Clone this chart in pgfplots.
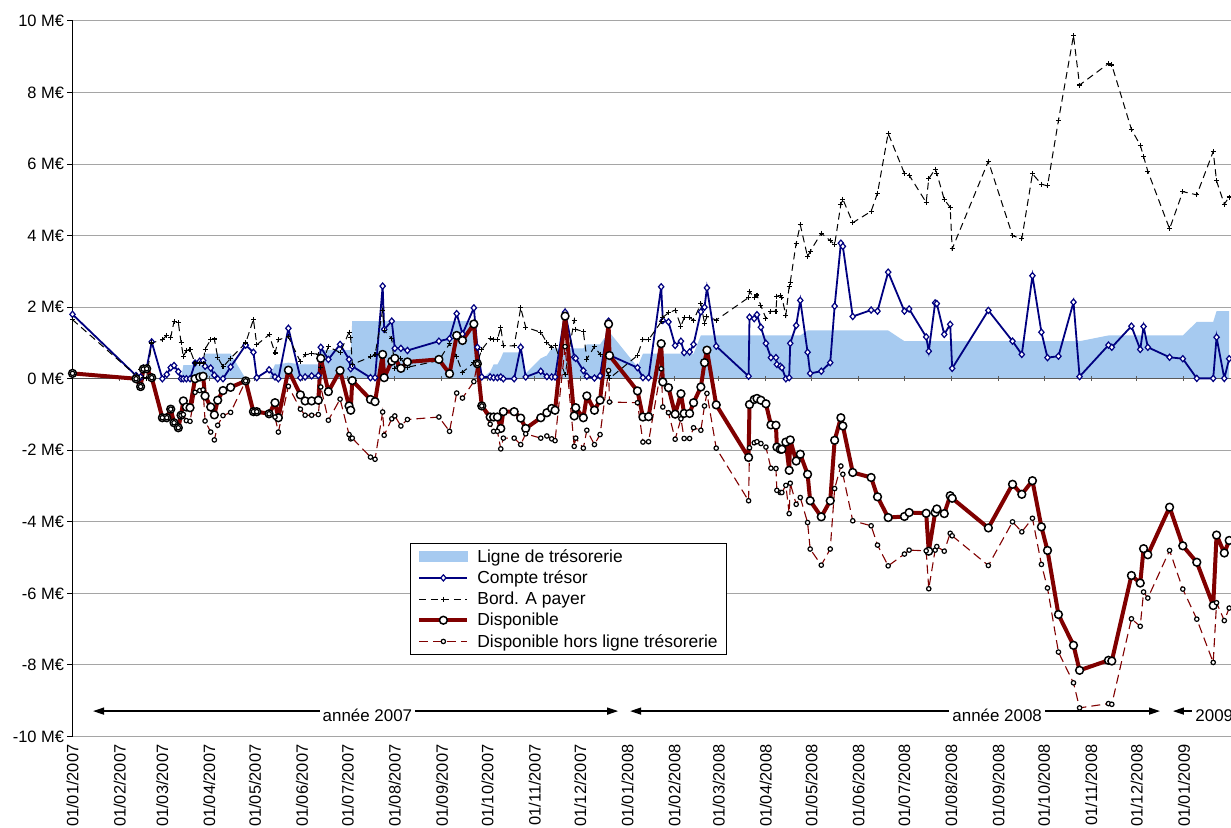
\documentclass[border=0pt]{standalone}
\usepackage{fontspec}
\setmainfont{Liberation Sans}
\usepackage{pgfplots}
\usepackage{pgfplotstable}
\pgfplotsset{compat=1.18}
\usetikzlibrary{arrows.meta}

\definecolor{lignebleu}{RGB}{166,202,240}
\definecolor{marine}{RGB}{0,0,128}
\definecolor{bordeaux}{RGB}{128,0,0}
\definecolor{grille}{RGB}{165,165,165}
\definecolor{axezero}{RGB}{90,90,90}

% d = jours depuis le 01/01/2007, L = ligne de trésorerie, C = compte trésor,
% B = bordereaux à payer, D = disponible, H = disponible hors ligne (M€)
\pgfplotstableread{
d L C B D H
0 0 1.80 1.65 0.15 0.15
41.8 0 0.09 0.09 0.00 0.00
44.8 0 0.05 0.27 -0.22 -0.22
46.6 0 0.30 0.03 0.27 0.27
48.8 0 0.30 0.02 0.28 0.28
52.1 0 1.03 1.00 0.03 0.03
59.1 0 0.00 1.09 -1.09 -1.09
62.0 0 0.12 1.21 -1.09 -1.09
64.6 0 0.31 1.16 -0.85 -0.85
66.8 0 0.37 1.60 -1.23 -1.23
69.6 0 0.20 1.57 -1.37 -1.37
71.4 0 0.00 1.02 -1.02 -1.02
72.9 0.38 0.00 0.62 -0.62 -1.00
74.9 0.38 0.00 0.79 -0.79 -1.17
77.3 0.38 0.00 0.81 -0.81 -1.19
80.6 0.38 0.44 0.44 0.00 -0.38
83.7 0.38 0.49 0.44 0.05 -0.33
85.9 0.38 0.51 0.44 0.07 -0.31
87.2 0.70 0.35 0.83 -0.48 -1.18
90.9 0.70 0.30 1.09 -0.79 -1.49
93.3 0.70 0.10 1.11 -1.01 -1.71
95.5 0.70 0.00 0.60 -0.60 -1.30
99.0 0.70 0.00 0.33 -0.33 -1.03
104.0 0.70 0.33 0.57 -0.24 -0.94
113.9 0 0.94 1.00 -0.06 -0.06
119.0 0 0.74 1.66 -0.92 -0.92
121.2 0 0.03 0.95 -0.92 -0.92
129.3 0 0.25 1.23 -0.98 -0.98
133.2 0.40 0.05 0.72 -0.67 -1.07
135.4 0.40 0.00 1.09 -1.09 -1.49
142.0 0.45 1.41 1.17 0.24 -0.21
149.9 0.40 0.03 0.48 -0.45 -0.85
153.0 0.40 0.05 0.67 -0.62 -1.02
157.3 0.40 0.08 0.70 -0.62 -1.02
161.7 0.40 0.09 0.69 -0.60 -1.00
163.3 0.80 0.88 0.31 0.57 -0.23
168.3 0.80 0.54 0.90 -0.36 -1.16
176.0 0.80 0.96 0.73 0.23 -0.57
181.9 0.80 0.54 1.30 -0.76 -1.56
183.0 0.80 0.28 1.16 -0.88 -1.68
184.0 1.61 0.35 0.40 -0.05 -1.66
196.0 1.61 0.03 0.61 -0.58 -2.19
199.0 1.61 0.03 0.67 -0.64 -2.25
204.0 1.61 2.59 1.91 0.68 -0.93
205.0 1.61 1.38 1.35 0.03 -1.58
210.0 1.61 1.61 1.12 0.49 -1.12
212.0 1.61 0.85 0.28 0.57 -1.04
216.0 1.61 0.85 0.56 0.29 -1.32
220.3 1.61 0.79 0.32 0.47 -1.14
241.0 1.61 1.05 0.51 0.54 -1.07
248.0 1.61 1.12 0.98 0.14 -1.47
252.7 1.61 1.82 0.61 1.21 -0.40
256.5 1.61 1.25 0.18 1.07 -0.54
264.0 1.61 1.98 0.45 1.53 -0.08
266.3 0 0.88 0.46 0.42 0.42
269.2 0 0.05 0.81 -0.76 -0.76
274.7 0.20 0.05 1.12 -1.07 -1.27
277.0 0.40 0.03 1.10 -1.07 -1.47
279.5 0.40 0.03 1.10 -1.07 -1.47
281.7 0.57 0.05 1.44 -1.39 -1.96
283.4 0.74 0.00 0.92 -0.92 -1.66
290.5 0.74 0.00 0.92 -0.92 -1.66
294.8 0.74 0.88 1.98 -1.10 -1.84
298.1 0.15 0.05 1.44 -1.39 -1.54
308.0 0.57 0.21 1.30 -1.09 -1.66
312.0 0.65 0.06 1.01 -0.95 -1.60
315.2 0.85 0.05 0.88 -0.83 -1.68
317.4 0.85 0.05 0.93 -0.88 -1.73
324.0 0.85 1.86 0.11 1.75 0.90
330.0 0.85 0.60 1.64 -1.04 -1.89
331.0 0.85 0.57 1.38 -0.81 -1.66
336.0 0.85 0.23 1.32 -1.09 -1.94
338.3 0.96 0.07 0.55 -0.48 -1.44
343.3 0.96 0.02 0.90 -0.88 -1.84
347.0 0.96 0.08 0.68 -0.60 -1.56
352.6 1.30 1.61 0.08 1.53 0.23
353.2 1.30 0.66 0.01 0.65 -0.65
371.6 0.33 0.31 0.65 -0.34 -0.67
375.2 0.70 0.03 1.10 -1.07 -1.77
378.9 0.70 0.03 1.09 -1.06 -1.76
387.2 0.70 2.57 1.59 0.98 0.28
388.3 0.70 1.63 1.72 -0.09 -0.79
392.0 0.70 1.59 1.84 -0.25 -0.95
396.4 0.70 0.93 1.92 -0.99 -1.69
400.2 0.70 1.05 1.47 -0.42 -1.12
402.3 0.70 0.73 1.70 -0.97 -1.67
405.9 0.70 0.75 1.72 -0.97 -1.67
408.5 0.70 0.96 1.63 -0.67 -1.37
413.3 1.21 1.87 2.10 -0.23 -1.44
415.7 1.21 2.00 1.55 0.45 -0.76
417.3 1.21 2.54 1.74 0.80 -0.41
423.4 1.21 0.91 1.64 -0.73 -1.94
444.7 1.21 0.07 2.27 -2.20 -3.41
445.3 1.21 1.72 2.44 -0.72 -1.93
448.4 1.21 1.68 2.26 -0.58 -1.79
450.2 1.21 1.79 2.34 -0.55 -1.76
452.8 1.21 1.44 2.04 -0.60 -1.81
456.1 1.21 0.99 1.69 -0.70 -1.91
459.4 1.21 0.59 1.88 -1.29 -2.50
462.7 1.21 0.59 1.89 -1.30 -2.51
463.3 1.21 0.40 2.31 -1.91 -3.12
465.5 1.21 0.35 2.32 -1.97 -3.18
466.6 1.21 0.31 2.28 -1.97 -3.18
469.2 1.21 0.00 1.77 -1.77 -2.98
471.4 1.21 0.03 2.59 -2.56 -3.77
472.1 1.21 0.99 2.70 -1.71 -2.92
476.0 1.21 1.49 3.79 -2.30 -3.51
478.7 1.21 2.19 4.30 -2.11 -3.32
483.5 1.35 0.74 3.41 -2.67 -4.02
485.2 1.35 0.15 3.56 -3.41 -4.76
492.5 1.35 0.21 4.07 -3.86 -5.21
498.4 1.35 0.45 3.86 -3.41 -4.76
501.3 1.35 2.03 3.75 -1.72 -3.07
505.4 1.35 3.79 4.88 -1.09 -2.44
506.7 1.35 3.70 5.02 -1.32 -2.67
513.2 1.35 1.74 4.36 -2.62 -3.97
525.3 1.35 1.92 4.68 -2.76 -4.11
529.5 1.35 1.89 5.19 -3.30 -4.65
536.5 1.35 2.98 6.86 -3.88 -5.23
547.2 1.05 1.89 5.74 -3.85 -4.90
550.3 1.05 1.95 5.69 -3.74 -4.79
561.5 1.05 1.17 4.93 -3.76 -4.81
563.2 1.05 0.77 5.59 -4.82 -5.87
567.4 1.05 2.12 5.86 -3.74 -4.79
568.5 1.05 2.10 5.74 -3.64 -4.69
573.4 1.05 1.24 5.01 -3.77 -4.82
577.3 1.05 1.52 4.79 -3.27 -4.32
578.6 1.05 0.29 3.63 -3.34 -4.39
602.4 1.05 1.91 6.08 -4.17 -5.22
618.3 1.05 1.05 4.00 -2.95 -4.00
624.4 1.05 0.68 3.91 -3.23 -4.28
631.4 1.05 2.88 5.73 -2.85 -3.90
637.3 1.05 1.30 5.44 -4.14 -5.19
641.3 1.05 0.59 5.39 -4.80 -5.85
648.5 1.05 0.63 7.22 -6.59 -7.64
658.4 1.05 2.14 9.59 -7.45 -8.50
662.4 1.05 0.06 8.21 -8.15 -9.20
681.4 1.21 0.94 8.81 -7.87 -9.08
683.6 1.21 0.88 8.77 -7.89 -9.10
696.5 1.21 1.47 6.97 -5.50 -6.71
702.3 1.21 0.82 6.53 -5.71 -6.92
704.5 1.21 1.46 6.21 -4.75 -5.96
707.3 1.21 0.88 5.80 -4.92 -6.13
721.6 1.21 0.60 4.19 -3.59 -4.80
730.3 1.21 0.56 5.23 -4.67 -5.88
739.5 1.59 0.01 5.14 -5.13 -6.72
750.3 1.59 0.01 6.35 -6.34 -7.93
752.5 1.89 1.16 5.53 -4.37 -6.26
757.6 1.89 0.01 4.88 -4.87 -6.76
760.8 1.89 0.56 5.08 -4.52 -6.41
}\tresorerie

\pgfplotsset{
  cadre/.style={
    scale only axis, width=1158.5bp, height=715.5bp,
    xmin=0, xmax=762, ymin=-10, ymax=10,
    xtick={0,31,59,90,120,151,181,212,243,273,304,334,365,396,425,456,486,517,547,578,609,639,670,700,731},
    tick align=outside, major tick length=5bp,
  },
}

\begin{document}
\begin{tikzpicture}
% fond : grille, ligne de trésorerie et axe du zéro
\begin{axis}[cadre,
  axis on top,
  axis x line=middle, axis y line=left,
  x axis line style={-, draw=axezero, line width=1.4bp},
  y axis line style={draw=none},
  xticklabels={},
  xtick style={draw=axezero, line width=1bp},
  ytick={-10,-8,-6,-4,-2,2,4,6,8,10}, yticklabels={},
  ytick style={draw=none},
  ymajorgrids, grid style={draw=grille, line width=1bp},
]
\addplot[fill=lignebleu, draw=none] table[x=d, y=L] {\tresorerie} \closedcycle;
\end{axis}

% premier plan : séries, axe vertical, légende
\begin{axis}[cadre,
  axis x line*=bottom, axis y line*=left,
  x axis line style={draw=none},
  xtick style={draw=none},
  xticklabels={01/01/2007,01/02/2007,01/03/2007,01/04/2007,01/05/2007,01/06/2007,01/07/2007,01/08/2007,01/09/2007,01/10/2007,01/11/2007,01/12/2007,01/01/2008,01/02/2008,01/03/2008,01/04/2008,01/05/2008,01/06/2008,01/07/2008,01/08/2008,01/09/2008,01/10/2008,01/11/2008,01/12/2008,01/01/2009},
  xticklabel style={rotate=90, anchor=east, inner sep=3bp},
  ytick={-10,-8,-6,-4,-2,0,2,4,6,8,10},
  yticklabels={-10 M€,-8 M€,-6 M€,-4 M€,-2 M€,0 M€,2 M€,4 M€,6 M€,8 M€,10 M€},
  y axis line style={black, line width=1bp},
  ytick style={black, line width=1bp},
  tick label style={font=\fontsize{16.5}{19}\selectfont},
  legend cell align=left,
  legend image code/.code={\draw[mark repeat=2,mark phase=2,#1] plot coordinates {(0bp,0bp) (24bp,0bp) (48bp,0bp)};},
  legend style={at={(0.2913,0.2704)}, anchor=north west, draw=black, line width=0.8bp,
    fill=white, font=\fontsize{17.5}{20}\selectfont, row sep=3bp,
    inner xsep=7bp, inner ysep=4bp,
    /tikz/every odd column/.append style={column sep=6bp}},
]
\addlegendimage{legend image code/.code={\fill[lignebleu] (0bp,-5bp) rectangle (48bp,5bp);}}
\addlegendentry{Ligne de trésorerie}

\addplot[marine, line width=1.8bp, mark=diamond*, mark size=3.1bp,
  mark options={fill=white, draw=marine, line width=1.2bp, xscale=1.15}]
  table[x=d, y=C] {\tresorerie};
\addlegendentry{Compte trésor}

\addplot[black, line width=1bp, dash pattern=on 7bp off 4.5bp, mark=+, mark size=2.5bp,
  mark options={solid, black, line width=1.1bp}]
  table[x=d, y=B] {\tresorerie};
\addlegendentry{Bord. A payer}

\addplot[bordeaux, line width=4bp, line join=round, mark=*, mark size=3.9bp,
  mark options={fill=white, draw=black, line width=1.5bp}]
  table[x=d, y=D] {\tresorerie};
\addlegendentry{Disponible}

\addplot[bordeaux, line width=1.1bp, dash pattern=on 9bp off 5bp, mark=*, mark size=2.2bp,
  mark options={solid, fill=white, draw=black, line width=1.2bp}]
  table[x=d, y=H] {\tresorerie};
\addlegendentry{Disponible hors ligne trésorerie}

% repères des exercices
\draw[line width=1.4bp, {Triangle[length=11bp,width=7bp]}-{Triangle[length=11bp,width=7bp]}]
  (axis cs:13.5,-9.29) -- (axis cs:358.9,-9.29);
\node[fill=white, inner sep=3bp, anchor=base, yshift=-10bp, font=\fontsize{17}{20}\selectfont]
  at (axis cs:194,-9.29) {année 2007};
\draw[line width=1.4bp, {Triangle[length=11bp,width=7bp]}-{Triangle[length=11bp,width=7bp]}]
  (axis cs:366.8,-9.29) -- (axis cs:715.3,-9.29);
\node[fill=white, inner sep=3bp, anchor=base, yshift=-10bp, font=\fontsize{17}{20}\selectfont]
  at (axis cs:608.2,-9.29) {année 2008};
\draw[line width=1.4bp, {Triangle[length=11bp,width=7bp]}-]
  (axis cs:723.8,-9.29) -- (axis cs:736.3,-9.29);
\node[inner sep=0pt, anchor=base west, yshift=-10bp, font=\fontsize{17}{20}\selectfont]
  at (axis cs:738.5,-9.29) {2009};
\end{axis}

\pgfresetboundingbox
\path[use as bounding box] (-72.5bp,-91.5bp) rectangle (1158.5bp,736.5bp);
\end{tikzpicture}
\end{document}
